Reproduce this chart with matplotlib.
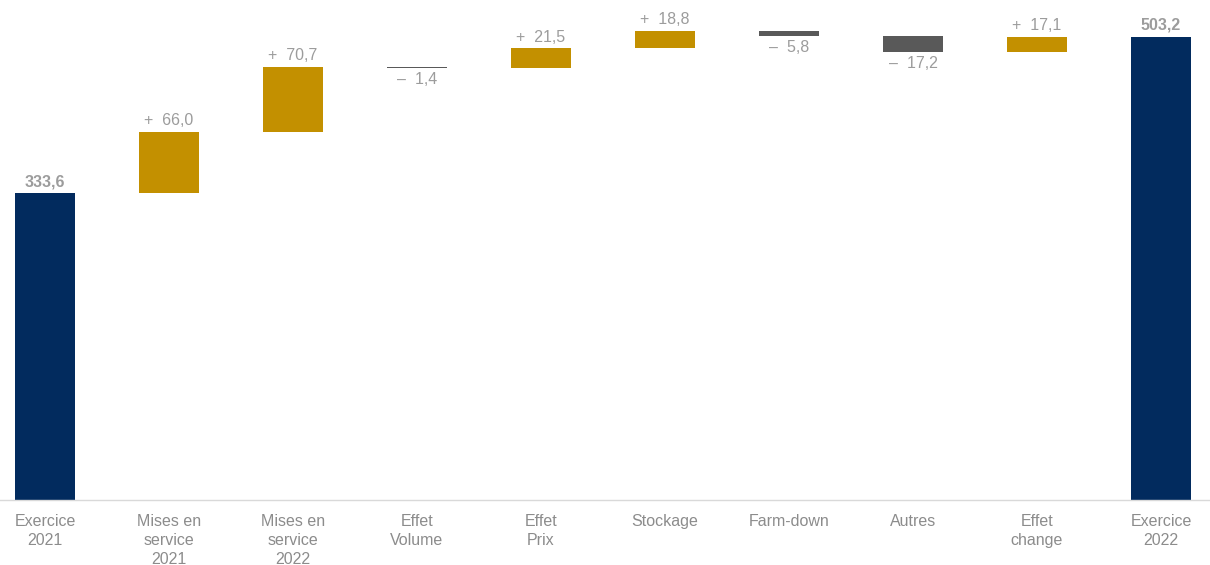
import matplotlib.pyplot as plt
import numpy as np

plt.rcParams['font.family'] = ['Liberation Sans', 'DejaVu Sans']

categories = ["Exercice\n2021", "Mises en\nservice\n2021", "Mises en\nservice\n2022",
              "Effet\nVolume", "Effet\nPrix", "Stockage", "Farm-down", "Autres",
              "Effet\nchange", "Exercice\n2022"]
start_value = 333.6
deltas = [66.0, 70.7, -1.4, 21.5, 18.8, -5.8, -17.2, 17.1]
end_value = 503.2

navy = "#022B5E"
gold = "#C39000"
dgray = "#595959"
label_col = "#9C9C9C"
tick_col = "#8C8C8C"

fig = plt.figure(figsize=(12.1, 5.65), dpi=100)
ax = fig.add_axes([0, 65 / 565, 1, 500 / 565])

x = np.arange(len(categories))
w = 0.49

# totals
ax.bar(x[0], start_value, width=w, color=navy)
ax.bar(x[-1], end_value, width=w, color=navy)
ax.text(x[0], start_value + 4, "333,6", ha='center', va='bottom',
        color=label_col, fontsize=11.5, fontweight='bold')
ax.text(x[-1], end_value + 4, "503,2", ha='center', va='bottom',
        color=label_col, fontsize=11.5, fontweight='bold')

# deltas
level = start_value
for i, d in enumerate(deltas, start=1):
    if d >= 0:
        ax.bar(x[i], d, bottom=level, width=w, color=gold)
        ax.text(x[i], level + d + 4, "+  " + f"{d:.1f}".replace('.', ','),
                ha='center', va='bottom', color=label_col, fontsize=11.5)
    else:
        ax.bar(x[i], d, bottom=level, width=w, color=dgray)
        ax.text(x[i], level + d - 4, "–  " + f"{-d:.1f}".replace('.', ','),
                ha='center', va='top', color=label_col, fontsize=11.5)
    level += d

ax.set_xlim(-0.363, 9.395)
ax.set_ylim(0, 543)
ax.set_xticks(x)
ax.set_xticklabels(categories, color=tick_col, fontsize=11.5, linespacing=1.32)
ax.tick_params(axis='x', length=0, pad=10)
ax.set_yticks([])
for s in ['top', 'right', 'left']:
    ax.spines[s].set_visible(False)
ax.spines['bottom'].set_color("#D9D9D9")
ax.spines['bottom'].set_linewidth(1)
ax.set_facecolor('white')

fig.savefig("out.png", dpi=100)
